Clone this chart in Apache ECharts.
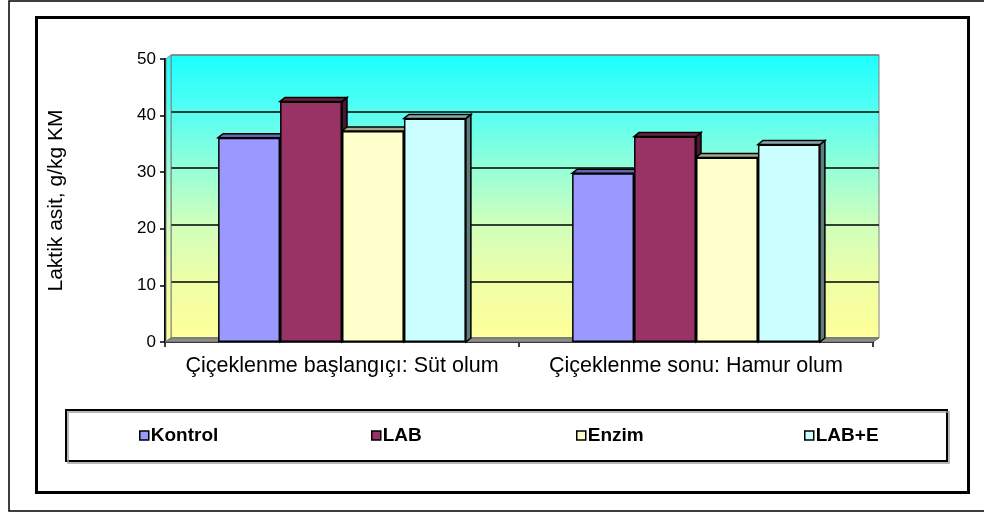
<!DOCTYPE html>
<html>
<head>
<meta charset="utf-8">
<script src="https://cdn.jsdelivr.net/npm/echarts@6/dist/echarts.min.js"></script>
<style>
  html, body { margin: 0; padding: 0; background: #fff; }
  #chart { width: 984px; height: 514px; }
</style>
</head>
<body>
<div id="chart"></div>
<script>
// Categories and measured lactic acid values (g/kg KM)
const categories = ['Çiçeklenme başlangıçı: Süt olum', 'Çiçeklenme sonu: Hamur olum'];
const seriesNames = ['Kontrol', 'LAB', 'Enzim', 'LAB+E'];
const kontrol = [36.1, 29.8];
const lab = [42.5, 36.3];
const enzim = [37.3, 32.6];
const labE = [39.5, 34.9];
const yMin = 0, yMax = 50, yStep = 10;
const yTitle = 'Laktik asit, g/kg KM';

const seriesValues = [kontrol, lab, enzim, labE];
// front / top / side face colours for each series
const faceColors = [
  ['#9999FF', '#6666B0', '#4A4A85'],
  ['#993366', '#6A2345', '#4A1830'],
  ['#FFFFCC', '#A8A888', '#7A7A62'],
  ['#CCFFFF', '#88AAAA', '#5E7C7C']
];
const FONT = 'Arial, "Liberation Sans", Helvetica, sans-serif';
const DEPTH_X = 5, DEPTH_Y = -4;      // bar depth
const WALL_X = 6, WALL_Y = -4;        // back wall offset
const GROUP_SHARE = 0.7;              // share of category width used by bars

const wallGradient = {
  type: 'linear', x: 0, y: 0, x2: 0, y2: 1,
  colorStops: [
    { offset: 0, color: '#1AFFFF' },
    { offset: 0.2, color: '#55FFF2' },
    { offset: 0.4, color: '#95FFD8' },
    { offset: 0.6, color: '#D0FFBC' },
    { offset: 0.8, color: '#EEFFA6' },
    { offset: 1, color: '#FFFF99' }
  ]
};

const chart = echarts.init(document.getElementById('chart'), null, { renderer: 'canvas' });

// floor and left side wall of the 3D box
const frameSeries = {
  type: 'custom', xAxisIndex: 0, yAxisIndex: 0, silent: true, z: 1,
  data: [[0, 0]],
  renderItem: function (params) {
    const cs = params.coordSys;
    const x = cs.x, y = cs.y, w = cs.width, h = cs.height;
    return {
      type: 'group',
      children: [
        {
          type: 'polygon',
          shape: { points: [[x + 1, y + h], [x + 1, y], [x + WALL_X, y + WALL_Y], [x + WALL_X, y + h + WALL_Y]] },
          style: { fill: wallGradient, stroke: '#808080', lineWidth: 1 }
        },
        {
          type: 'polygon',
          shape: { points: [[x, y + h], [x + w, y + h], [x + w + WALL_X, y + h + WALL_Y], [x + WALL_X, y + h + WALL_Y]] },
          style: { fill: '#8C8C8C', stroke: '#6E6E6E', lineWidth: 1 }
        }
      ]
    };
  }
};

// top and side faces of each bar, positioned from the category scale
function depthSeries(idx) {
  const cols = faceColors[idx];
  return {
    type: 'custom', xAxisIndex: 0, yAxisIndex: 0, silent: true, z: 1,
    data: seriesValues[idx].map((v, i) => [i, v]),
    renderItem: function (params, api) {
      const ci = api.value(0), v = api.value(1);
      const top = api.coord([ci, v]);
      const base = api.coord([ci, 0]);
      const W = api.size([1, 0])[0];
      const bw = W * GROUP_SHARE / seriesNames.length;
      const left = top[0] - bw * seriesNames.length / 2 + idx * bw;
      const right = left + bw;
      const t = top[1], b = base[1];
      return {
        type: 'group',
        children: [
          {
            type: 'polygon',
            shape: { points: [[right, t], [right + DEPTH_X, t + DEPTH_Y], [right + DEPTH_X, b + DEPTH_Y], [right, b]] },
            style: { fill: cols[2], stroke: '#000', lineWidth: 1.5 }
          },
          {
            type: 'polygon',
            shape: { points: [[left, t], [left + DEPTH_X, t + DEPTH_Y], [right + DEPTH_X, t + DEPTH_Y], [right, t]] },
            style: { fill: cols[1], stroke: '#000', lineWidth: 1.5 }
          }
        ]
      };
    }
  };
}

const barSeries = seriesNames.map((name, idx) => ({
  name: name,
  type: 'bar',
  xAxisIndex: 0, yAxisIndex: 0,
  z: 2,
  barGap: '0%',
  barCategoryGap: '30%',
  data: seriesValues[idx],
  itemStyle: { color: faceColors[idx][0], borderColor: '#000', borderWidth: 1.5 },
  emphasis: { disabled: true }
}));

const legendLefts = [139, 371, 576, 804];
const legends = seriesNames.map((name, idx) => ({
  data: [name],
  left: legendLefts[idx],
  top: 426,
  padding: 0,
  icon: 'rect',
  itemWidth: 9,
  itemHeight: 9,
  itemGap: 0,
  selectedMode: false,
  itemStyle: { borderColor: '#000', borderWidth: 1.5 },
  textStyle: { fontFamily: FONT, fontWeight: 'bold', fontSize: 19, color: '#000', padding: [0, 0, 0, -3] }
}));

chart.setOption({
  animation: false,
  backgroundColor: '#fff',
  grid: [
    { left: 165, top: 59, width: 708, height: 283, show: false },
    { left: 165 + WALL_X, top: 59 + WALL_Y, width: 708, height: 283, show: true,
      backgroundColor: wallGradient, borderColor: '#808080', borderWidth: 1 }
  ],
  xAxis: [
    {
      gridIndex: 0, type: 'category', data: categories,
      axisLine: { lineStyle: { color: '#000', width: 2 } },
      axisTick: { show: true, interval: 0, length: 5, lineStyle: { color: '#000', width: 1.5 } },
      axisLabel: { interval: 0, fontFamily: FONT, fontSize: 21.5, color: '#000', margin: 13 },
      splitLine: { show: false }
    },
    {
      gridIndex: 1, type: 'category', data: categories, show: false
    }
  ],
  yAxis: [
    {
      gridIndex: 0, type: 'value', min: yMin, max: yMax, interval: yStep,
      name: yTitle, nameLocation: 'middle', nameRotate: 90, nameGap: 98,
      nameTextStyle: { fontFamily: FONT, fontSize: 21, color: '#000' },
      axisLine: { show: true, lineStyle: { color: '#000', width: 2 } },
      axisTick: { show: true, length: 5, lineStyle: { color: '#000', width: 1.5 } },
      axisLabel: { fontFamily: FONT, fontSize: 17, color: '#000', margin: 9 },
      splitLine: { show: false }
    },
    {
      gridIndex: 1, type: 'value', min: yMin, max: yMax, interval: yStep,
      axisLine: { show: false }, axisTick: { show: false }, axisLabel: { show: false },
      splitLine: { show: true, lineStyle: { color: ['#808080', '#000', '#000', '#000', '#000', '#808080'], width: 1.5 } }
    }
  ],
  legend: legends,
  graphic: [
    { type: 'rect', shape: { x: 9, y: 1, width: 990, height: 510 }, style: { fill: 'none', stroke: '#000', lineWidth: 1.5 }, silent: true },
    { type: 'rect', shape: { x: 36.5, y: 17.5, width: 932, height: 475 }, style: { fill: 'none', stroke: '#000', lineWidth: 3 }, silent: true },
    { type: 'rect', shape: { x: 68, y: 412, width: 881, height: 51 }, style: { fill: 'none', stroke: '#A0A0A0', lineWidth: 1.5 }, silent: true },
    { type: 'rect', shape: { x: 66, y: 410, width: 881, height: 51 }, style: { fill: '#fff', stroke: '#000', lineWidth: 2 }, silent: true, z: -1 }
  ],
  series: [frameSeries].concat(seriesNames.map((n, i) => depthSeries(i)), barSeries)
});
</script>
</body>
</html>
